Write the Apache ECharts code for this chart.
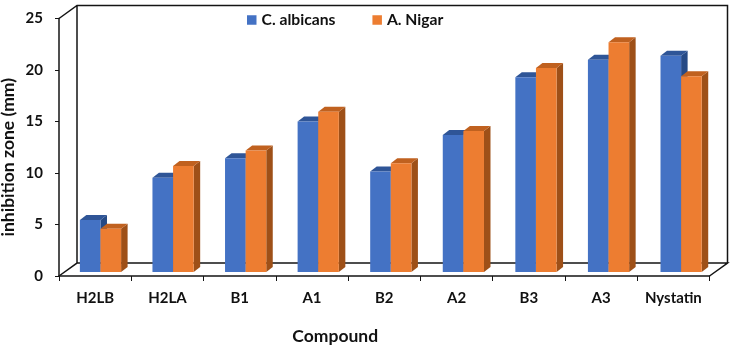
<!DOCTYPE html>
<html><head><meta charset="utf-8">
<style>html,body{margin:0;padding:0;background:#fff}#c{width:733px;height:345px}</style>
<script src="https://cdn.jsdelivr.net/npm/echarts@6/dist/echarts.min.js"></script>
</head><body><div id="c"></div>
<script>
const categories = ['H2LB','H2LA','B1','A1','B2','A2','B3','A3','Nystatin'];
const albicans = [5.05,9.15,11.05,14.6,9.75,13.3,18.9,20.6,21.0];
const nigar = [4.2,10.3,11.8,15.55,10.55,13.7,19.8,22.3,19.0];
const yTicks = [0,5,10,15,20,25];
const FONT = 'Lato,"Open Sans",sans-serif';
const INK = '#141414';

function barRenderer(offsetDir, front, top, side) {
  return function (params, api) {
    const cat = api.value(0), v = api.value(1);
    const band = api.size([1, 0])[0];
    const w = band * 0.284;
    const base = api.coord([cat, 0]);
    const tip = api.coord([cat, v]);
    const x0 = base[0] + (offsetDir < 0 ? -w : 0), x1 = x0 + w;
    const dx = 6.5, dy = 5;
    return { type: 'group', children: [
      { type: 'polygon', shape: { points: [[x1,tip[1]],[x1+dx,tip[1]-dy],[x1+dx,base[1]-dy],[x1,base[1]]] }, style: { fill: side } },
      { type: 'polygon', shape: { points: [[x0,tip[1]],[x0+dx,tip[1]-dy],[x1+dx,tip[1]-dy],[x1,tip[1]]] }, style: { fill: top } },
      { type: 'rect', shape: { x: x0, y: tip[1], width: w, height: base[1]-tip[1] }, style: { fill: front } }
    ]};
  };
}

function frameRenderer(params, api) {
  const a = api.coord([0, 0]), b = api.coord([1, 25]);
  const size = api.size([1, 0]);
  const xl = a[0] - size[0] * 0.5, xr = xl + size[0] * categories.length, yb = a[1], yt = b[1];
  const dx = 18, dy = 13;
  const s = { stroke: INK, lineWidth: 1.5, fill: null };
  return { type: 'polyline', shape: { points: [
    [xl,yt],[xl+dx,yt-dy],[xr+dx,yt-dy],[xr+dx,yb-dy],[xr,yb],[xr+dx,yb-dy],[xl+dx,yb-dy],[xl,yb],[xl+dx,yb-dy],[xl+dx,yt-dy]
  ] }, style: s, silent: true };
}

const chart = echarts.init(document.getElementById('c'), null, { renderer: 'canvas' });
chart.setOption({
  animation: false,
  backgroundColor: '#fff',
  legend: {
    data: ['C. albicans','A. Nigar'], top: 7, left: 242, itemWidth: 9.5, itemHeight: 9.5, itemGap: 37, icon: 'rect',
    textStyle: { fontFamily: FONT, fontWeight: 'bold', fontSize: 15.7, color: '#111' }
  },
  grid: [
    { left: 59, right: 23.5, top: 18.5, bottom: 69, outerBoundsMode: 'none' },
    { left: 64.2, right: 15.6, top: 14.5, bottom: 73, outerBoundsMode: 'none' }
  ],
  xAxis: [
    { type: 'category', gridIndex: 0, data: categories, boundaryGap: true,
      axisLine: { lineStyle: { color: INK, width: 1.5 } },
      axisTick: { show: true, length: 5, alignWithLabel: false, lineStyle: { color: INK, width: 1 } },
      axisLabel: { interval: 0, margin: 15, fontFamily: FONT, fontWeight: 'bold', fontSize: 15, color: '#111' },
      name: 'Compound', nameLocation: 'middle', nameGap: 51,
      nameTextStyle: { fontFamily: FONT, fontWeight: 'bold', fontSize: 17.5, color: '#111', padding: [0, 98, 0, 0] } },
    { type: 'category', gridIndex: 1, data: categories, show: false }
  ],
  yAxis: [
    { type: 'value', gridIndex: 0, min: 0, max: 25, interval: 5,
      axisLine: { show: true, lineStyle: { color: INK, width: 1.5 } },
      axisTick: { show: true, length: 4, lineStyle: { color: INK, width: 1 } },
      splitLine: { show: false },
      axisLabel: { margin: 16, fontFamily: FONT, fontWeight: 'bold', fontSize: 15, color: '#111',
        customValues: yTicks },
      name: 'inhibition zone (mm)', nameLocation: 'middle', nameGap: 42, nameRotate: 90, nameMoveOverlap: false,
      nameTextStyle: { fontFamily: FONT, fontWeight: 'bold', fontSize: 17.5, color: '#111', padding: [0, 20, 0, 0] } },
    { type: 'value', gridIndex: 1, min: 0, max: 25, interval: 5, show: false }
  ],
  series: [
    { type: 'custom', name: 'frame', xAxisIndex: 0, yAxisIndex: 0, z: 1, silent: true, renderItem: frameRenderer,
      data: [[0, 0]], clip: false },
    { type: 'custom', name: 'A. Nigar', xAxisIndex: 1, yAxisIndex: 1, z: 3, clip: false,
      itemStyle: { color: '#ED7D31' },
      renderItem: barRenderer(1, '#ED7D31', '#C0611F', '#9E5018'),
      data: nigar.map((v, i) => [i, v]) },
    { type: 'custom', name: 'C. albicans', xAxisIndex: 1, yAxisIndex: 1, z: 2, clip: false,
      itemStyle: { color: '#4472C4' },
      renderItem: barRenderer(-1, '#4472C4', '#2F5597', '#264A86'),
      data: albicans.map((v, i) => [i, v]) }
  ]
});
</script></body></html>
